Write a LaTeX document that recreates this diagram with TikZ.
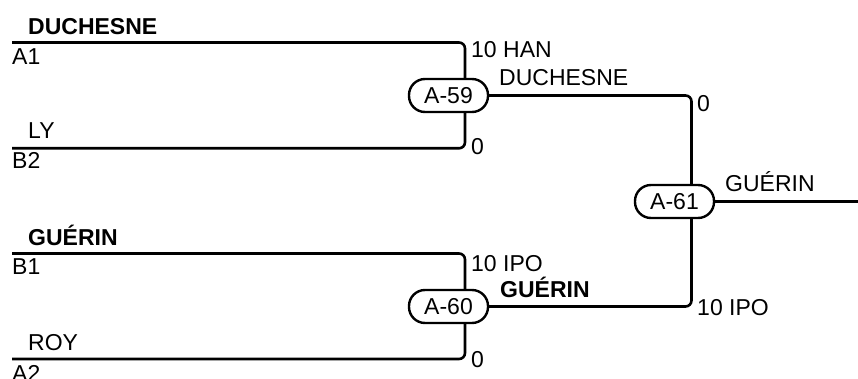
\documentclass[tikz,border=0pt]{standalone}
\usepackage{fontspec}
\setmainfont{Liberation Sans}
\usetikzlibrary{backgrounds}
\begin{document}
\begin{tikzpicture}[x=1pt,y=-1pt,
  lab/.style={inner sep=0pt, anchor=base west, font=\fontsize{23}{27}\selectfont},
  blab/.style={lab, font=\fontsize{23}{27}\selectfont\bfseries},
  match/.style={draw, line width=2.4pt, fill=white, rounded corners=16pt,
    minimum width=79pt, minimum height=33pt, inner sep=0pt,
    font=\fontsize{23}{27}\selectfont},
  wire/.style={line width=2.6pt, rounded corners=6pt}]
\useasboundingbox (0,0) rectangle (858,379);
% match nodes
\node[match] (m59) at (448.5,95.5) {A-59};
\node[match] (m60) at (448.5,306.5) {A-60};
\node[match] (m61) at (674.5,201.5) {A-61};
% coordinates
\coordinate (a1) at (12,42.5);
\coordinate (b2) at (12,148.3);
\coordinate (j59) at (465,95.5);
\coordinate (b1) at (12,253.5);
\coordinate (a2) at (12,359);
\coordinate (j60) at (465,306.5);
\coordinate (j61) at (691.5,201.5);
\coordinate (out) at (858,201.5);
% wires
\begin{pgfonlayer}{background}
\draw[wire] (a1) -| (j59) |- (b2);
\draw[wire] (b1) -| (j60) |- (a2);
\draw[wire] (m59.east) -| (j61) |- (m60.east);
\draw[wire] (m61.east) -- (out);
\end{pgfonlayer}
% labels
\node[blab] (t1) at (28,35) {DUCHESNE};
\node[lab] (t2) at (12,65) {A1};
\node[lab] (t3) at (28,139) {LY};
\node[lab] (t4) at (12,168.5) {B2};
\node[lab] (t5) at (471,58) {10 HAN};
\node[lab] (t6) at (471,155) {0};
\node[lab] (t7) at (499,86) {DUCHESNE};
\node[lab] (t8) at (697,112) {0};
\node[lab] (t9) at (725,192) {GUÉRIN};
\node[blab] (t10) at (28,245) {GUÉRIN};
\node[lab] (t11) at (12,274) {B1};
\node[lab] (t12) at (471,271) {10 IPO};
\node[blab] (t13) at (500,297) {GUÉRIN};
\node[lab] (t14) at (697,315.5) {10 IPO};
\node[lab] (t15) at (28,350.5) {ROY};
\node[lab] (t16) at (12,381.5) {A2};
\node[lab] (t17) at (471,367) {0};
\end{tikzpicture}
\end{document}
